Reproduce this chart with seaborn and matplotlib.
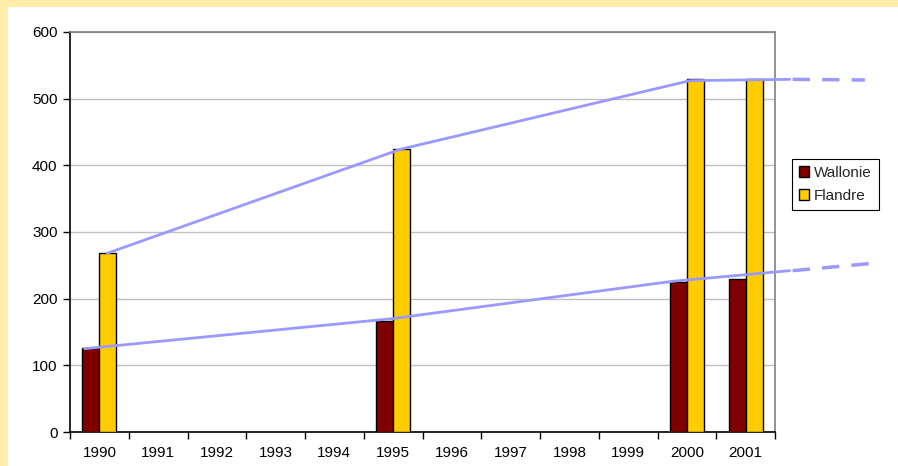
import numpy as np
import pandas as pd
import matplotlib.pyplot as plt
import seaborn as sns

# données
annees = ["1990", "1991", "1992", "1993", "1994", "1995",
          "1996", "1997", "1998", "1999", "2000", "2001"]
annees_mesure = ["1990", "1995", "2000", "2001"]
wallonie = [126, 167, 225, 230]
flandre = [269, 424, 530, 530]

# lignes de tendance (position en index de catégorie, valeur)
tend_fl_x = [0.13, 5.12, 10.05, 11.75]
tend_fl_y = [268, 424, 527, 529]
tend_fl_proj_x = [11.8, 13.03]
tend_fl_proj_y = [529, 528]
tend_wa_x = [-0.25, 4.98, 9.75, 11.75]
tend_wa_y = [125, 170, 226, 242]
tend_wa_proj_x = [11.8, 13.28]
tend_wa_proj_y = [242, 254]

df = pd.DataFrame({
    "annee": annees_mesure * 2,
    "region": ["Wallonie"] * 4 + ["Flandre"] * 4,
    "valeur": wallonie + flandre,
})

sns.set_theme(style="white")
plt.rcParams["font.family"] = ["Liberation Sans", "DejaVu Sans"]

fig = plt.figure(figsize=(8.98, 4.66), dpi=100)
fig.patch.set_facecolor("#FFECA8")
# panneau blanc
fig.add_artist(plt.Rectangle((8 / 898, 0), 1, 1 - 7 / 466,
                             transform=fig.transFigure, facecolor="white",
                             edgecolor="none", zorder=0))

ax = fig.add_axes([70 / 898, 34 / 466, 705 / 898, 400 / 466])
ax.set_facecolor("white")

sns.barplot(
    data=df, x="annee", y="valeur", hue="region", order=annees,
    hue_order=["Wallonie", "Flandre"],
    palette={"Wallonie": "#800000", "Flandre": "#FFCC00"},
    width=0.58, gap=0, edgecolor="black", linewidth=1, ax=ax,
    errorbar=None, saturation=1, zorder=3,
)

couleur_tend = "#9999FF"
ax.plot(tend_fl_x, tend_fl_y, color=couleur_tend, lw=2, zorder=4, clip_on=False)
ax.plot(tend_wa_x, tend_wa_y, color=couleur_tend, lw=2, zorder=4, clip_on=False)
ax.plot(tend_fl_proj_x, tend_fl_proj_y, color=couleur_tend, lw=2.5,
        ls=(0, (5, 3.5)), zorder=4, clip_on=False)
ax.plot(tend_wa_proj_x, tend_wa_proj_y, color=couleur_tend, lw=2.5,
        ls=(0, (5, 3.5)), zorder=4, clip_on=False)

ax.set_xlim(-0.5, 11.5)
ax.set_ylim(0, 600)
ax.set_yticks(range(0, 601, 100))
ax.yaxis.grid(True, color="#C0C0C0", lw=1)
ax.set_axisbelow(True)

ax.set_xticks(np.arange(-0.5, 12, 1), minor=True)
ax.tick_params(axis="x", which="major", length=0, pad=10, labelsize=11, colors="black")
ax.tick_params(axis="x", which="minor", length=5, width=1, direction="out",
               color="black", bottom=True)
ax.tick_params(axis="y", length=5, width=1, direction="out", left=True,
               labelsize=11, colors="black", pad=4)
ax.set_xlabel("")
ax.set_ylabel("")

for cote in ["left", "bottom"]:
    ax.spines[cote].set_color("black")
    ax.spines[cote].set_linewidth(1.2)
for cote in ["top", "right"]:
    ax.spines[cote].set_color("#808080")
    ax.spines[cote].set_linewidth(1.2)

leg = ax.legend(
    loc="upper left", bbox_to_anchor=(1.024, 0.683), frameon=True,
    fancybox=False, framealpha=1, edgecolor="black", fontsize=11,
    handlelength=0.7, handleheight=0.7, handletextpad=0.3,
    borderpad=0.45, labelspacing=0.6, borderaxespad=0,
)
leg.get_frame().set_linewidth(0.8)

fig.savefig("out.png", dpi=100, facecolor=fig.get_facecolor())
